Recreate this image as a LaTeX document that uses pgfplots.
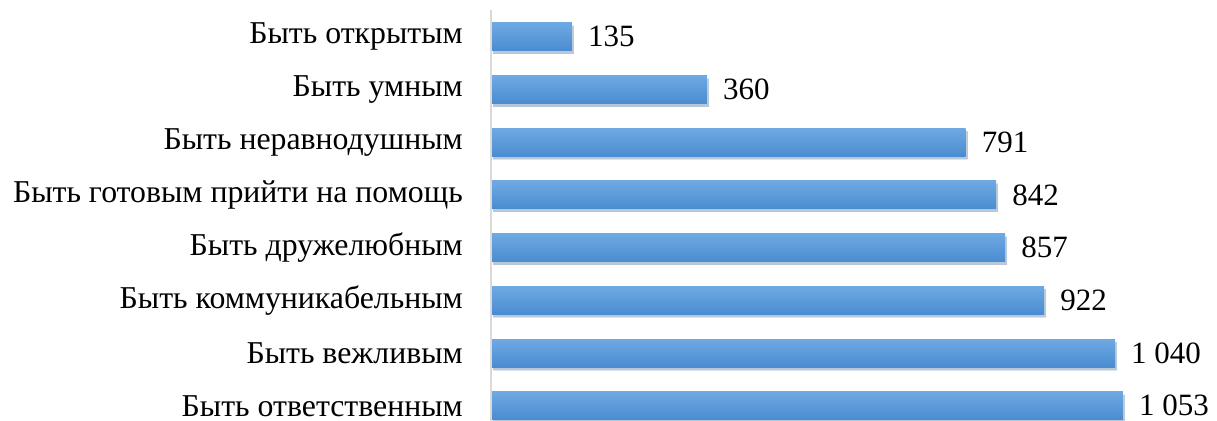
\documentclass[border=0pt]{standalone}
\usepackage{pgfplots}
\pgfplotsset{compat=1.18}
\usepackage{fontspec}
\setmainfont{Liberation Serif}
\usetikzlibrary{shadows}
\definecolor{bartop}{HTML}{6EA9E2}
\definecolor{barbot}{HTML}{4A8CD1}
\definecolor{axgray}{HTML}{D9D9D9}
\pgfplotsset{
  mybar/.style={xbar, bar width=28pt, bar shift=0pt, draw=none,
    top color=bartop, bottom color=barbot,
    drop shadow={shadow xshift=2pt, shadow yshift=-3pt, opacity=0.22, fill=black!70},
    nodes near coords,
    nodes near coords style={anchor=west, inner sep=0pt, xshift=16pt,
      font=\fontsize{31}{33}\selectfont, text=black}},
}
\begin{document}
\begin{tikzpicture}
\begin{axis}[
  scale only axis,
  width=720pt, height=420.8pt,
  xmin=0, xmax=1200,
  ymin=-0.285, ymax=7.70,
  axis line style={draw=none},
  hide x axis,
  ytick={0,...,7},
  yticklabels={Быть ответственным, Быть вежливым, Быть коммуникабельным, Быть дружелюбным, Быть готовым прийти на помощь, Быть неравнодушным, Быть умным, Быть открытым},
  major tick length=0pt,
  yticklabel style={font=\fontsize{31.8}{34}\selectfont, inner sep=0pt, anchor=east, xshift=-28pt},
  clip=false,
  /pgf/number format/assume math mode=true,
  /pgf/number format/1000 sep={\ },
]
\addplot[mybar] coordinates {(1053,0)};
\addplot[mybar] coordinates {(1040,1)};
\addplot[mybar] coordinates {(922,2)};
\addplot[mybar] coordinates {(857,3)};
\addplot[mybar] coordinates {(842,4)};
\addplot[mybar] coordinates {(791,5)};
\addplot[mybar] coordinates {(360,6)};
\addplot[mybar] coordinates {(135,7)};
\draw[axgray, line width=2pt] (axis cs:0,-0.285) -- (axis cs:0,7.512);
\coordinate (bl) at (axis cs:0,-0.285);
\coordinate (tr) at (axis cs:0,7.70);
\end{axis}
\pgfresetboundingbox
\path ([xshift=-491pt]bl) rectangle ([xshift=726pt]tr);
\end{tikzpicture}
\end{document}
